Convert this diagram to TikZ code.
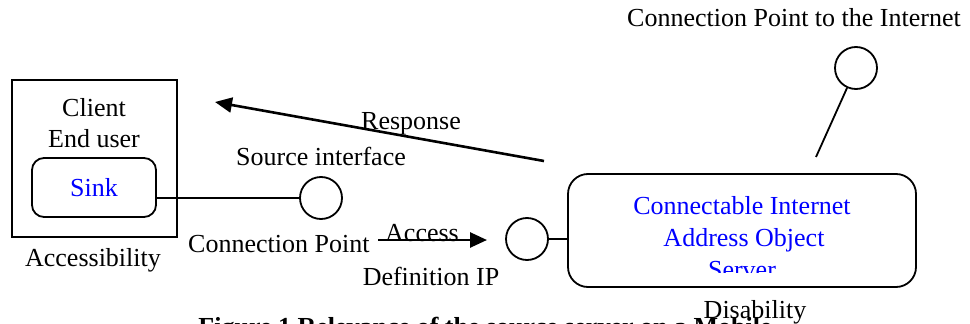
\documentclass[tikz,border=0pt]{standalone}
\usepackage{fontspec}
\setmainfont{Liberation Serif}
\usetikzlibrary{arrows.meta}
\definecolor{txtblue}{RGB}{0,0,255}
\tikzset{
  lbl/.style={inner sep=0pt, anchor=base, font=\fontsize{26}{30}\selectfont},
  bluelbl/.style={lbl, text=txtblue},
  boxsq/.style={draw, line width=1.8pt, minimum width=165pt, minimum height=157pt, inner sep=0pt},
  rbox/.style={draw, line width=1.8pt, rounded corners=#1, inner sep=0pt},
  port/.style={draw, circle, line width=1.8pt, minimum size=42pt, inner sep=0pt},
  wire/.style={line width=1.8pt},
  bigarrow/.style={line width=2.6pt, -{Triangle[length=17pt, width=15pt]}}
}
\begin{document}
\begin{tikzpicture}[x=1pt,y=-1pt]
\useasboundingbox (0,0) rectangle (970,324);
% client box
\node[boxsq] (client) at (94.5,158.5) {};
\node[lbl] (clienttxt) at (94,116) {Client};
\node[lbl] (endusertxt) at (94,147) {End user};
\node[rbox=12pt, minimum width=124pt, minimum height=59pt] (sink) at (94,187.5) {};
\node[bluelbl] (sinktxt) at (94,196) {Sink};
\node[lbl] (access) at (93,266) {Accessibility};
% source interface port
\node[port] (c1) at (321,198) {};
\node[lbl] (srcif) at (321,165) {Source interface};
\draw[wire] (sink.east |- c1) -- (c1.west);
% connection point
\node[lbl, anchor=base west] (cp) at (188,252) {Connection Point};
\coordinate (accstart) at (378,240);
\coordinate (acctip) at (487,240);
\draw[bigarrow] (accstart) -- (acctip);
\node[lbl] (acclbl) at (422,241) {Access};
\node[lbl] (defip) at (431,285) {Definition IP};
% server
\node[rbox=20pt, minimum width=348pt, minimum height=113pt] (server) at (742,230.5) {};
\begin{scope}
\clip (568,174) rectangle (916,272.5);
\node[bluelbl] (srvl1) at (742,214) {Connectable Internet};
\node[bluelbl] (srvl2) at (744,246) {Address Object};
\node[bluelbl] (srvl3) at (742,278) {Server};
\end{scope}
\node[lbl] (disab) at (755,318) {Disability};
\node[port] (c2) at (527,239) {};
\draw[wire] (c2.east) -- (c2.east -| server.west);
% internet port
\node[port] (c3) at (856,68) {};
\coordinate (c3end) at (816,157);
\draw[wire] (c3) -- (c3end);
\node[lbl] (inetlbl) at (794,27) {Connection Point to the Internet};
% response
\coordinate (respstart) at (544,161);
\coordinate (resptip) at (215,102);
\draw[bigarrow] (respstart) -- (resptip);
\node[lbl] (resplbl) at (411,129) {Response};
% caption (cut off at the bottom)
\begin{scope}
\clip (0,0) rectangle (970,324);
\node[lbl, font=\fontsize{26}{30}\selectfont\bfseries] (caption) at (485,335) {Figure 1 Relevance of the source server on a Mobile};
\end{scope}
\end{tikzpicture}
\end{document}
